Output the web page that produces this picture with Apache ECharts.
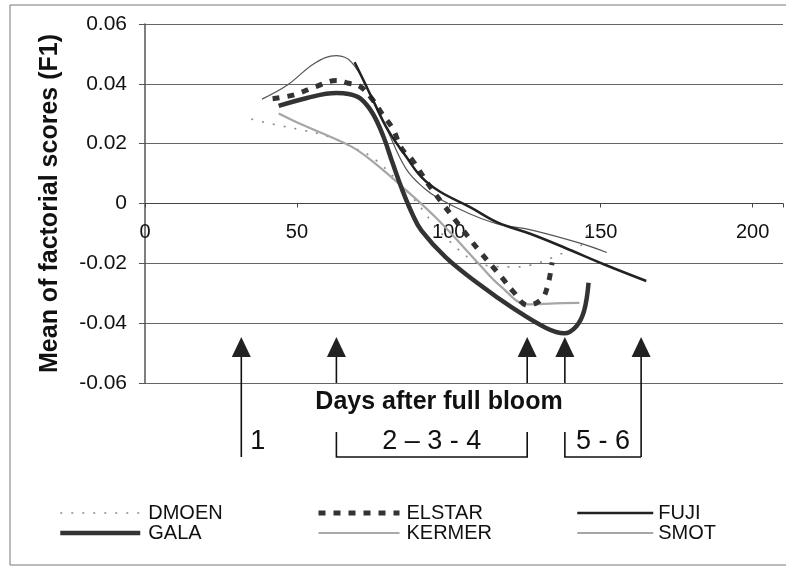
<!DOCTYPE html>
<html>
<head>
<meta charset="utf-8">
<script src="https://cdn.jsdelivr.net/npm/echarts@6/dist/echarts.min.js"></script>
<style>
html,body{margin:0;padding:0;background:#fff;}
#chart{width:786px;height:568px;}
</style>
</head>
<body>
<div id="chart"></div>
<script>
// ---- data ----
var dmoenDays  = [35, 40, 45, 52, 60, 68, 76, 88, 100, 113, 122, 129, 136, 144, 147];
var dmoenVals  = [0.0282, 0.0270, 0.0259, 0.0245, 0.0225, 0.0190, 0.0145, 0.0020, -0.0124, -0.0208, -0.0212, -0.0200, -0.0172, -0.0135, -0.0046];

var elstarDays = [42, 49, 56, 63, 67, 71, 75, 78, 81.5, 84.5, 88, 93, 98, 104, 110, 117.5, 121, 126, 130.5, 132.5, 134];
var elstarVals = [0.0350, 0.0363, 0.0390, 0.0411, 0.0402, 0.0390, 0.0346, 0.0300, 0.0251, 0.0184, 0.0145, 0.0068, -0.0001, -0.0080, -0.0158, -0.0248, -0.0292, -0.0340, -0.0320, -0.0276, -0.0197];

var fujiDays   = [69, 72, 75, 80, 86, 91, 97, 107, 116, 127, 138, 151, 165];
var fujiVals   = [0.0472, 0.0410, 0.0346, 0.0245, 0.0156, 0.0088, 0.0040, -0.0012, -0.0063, -0.0102, -0.0147, -0.0203, -0.0259];

var galaDays   = [44, 53, 63, 67, 71, 75, 78.5, 81.5, 84.5, 88, 91, 99, 110, 121, 132, 138, 142, 144.5, 146];
var galaVals   = [0.0326, 0.0352, 0.0369, 0.0366, 0.0350, 0.0300, 0.0223, 0.0135, 0.0050, -0.0035, -0.0091, -0.0180, -0.0270, -0.0349, -0.0416, -0.0434, -0.0410, -0.0360, -0.0265];

var kermerDays = [38.5, 47, 56, 63, 68, 74, 80, 86, 92, 97, 107, 116, 127, 144, 152];
var kermerVals = [0.0349, 0.0397, 0.0470, 0.0494, 0.0472, 0.0370, 0.0240, 0.0115, 0.0050, 0.0015, -0.0035, -0.0068, -0.0088, -0.0135, -0.0164];

var smotDays   = [44, 52, 61, 68, 75, 86, 97, 110, 117, 126, 135, 143];
var smotVals   = [0.0301, 0.0262, 0.0223, 0.0190, 0.0140, 0.0044, -0.0060, -0.0203, -0.0276, -0.0337, -0.0334, -0.0332];

var stageDays   = [31.7, 63, 125.8, 138.2, 163.3];
var stageLabels = ['1', '2 \u2013 3 - 4', '5 - 6'];

var xTicks = [0, 50, 100, 150, 200];
var yTicks = [-0.06, -0.04, -0.02, 0, 0.02, 0.04, 0.06];

var FONT = "'Liberation Sans', Arial, sans-serif";

function pairs(xs, ys) { return xs.map(function (x, i) { return [x, ys[i]]; }); }

var chart = echarts.init(document.getElementById('chart'), null, {renderer: 'canvas'});

function lineSeries(name, xs, ys, color, width, type, z) {
  return {
    name: name, type: 'line', data: pairs(xs, ys), smooth: 0.4,
    symbol: 'none', z: z || 2,
    lineStyle: {color: color, width: width, type: type},
    itemStyle: {color: color}
  };
}

var GRID_TOP = 24, GRID_BOTTOM = 185, H = 568;
var plotH = H - GRID_TOP - GRID_BOTTOM;

var legendBase = {
  orient: 'vertical', top: 503, padding: 0, itemHeight: 14, itemGap: 0, selectedMode: false,
  itemStyle: {opacity: 0, borderWidth: 0},
  lineStyle: {width: 'inherit', type: 'inherit'},
  textStyle: {fontSize: 20, fontFamily: FONT, color: '#111', lineHeight: 19}
};

chart.setOption({
  animation: false,
  backgroundColor: '#fff',
  grid: {left: 145, right: 2, top: GRID_TOP, bottom: GRID_BOTTOM, containLabel: false},
  xAxis: {
    type: 'value', min: 0, max: 210, interval: 50,
    position: 'bottom', offset: -plotH / 2,
    axisLine: {onZero: false, lineStyle: {color: '#444', width: 1}},
    axisTick: {show: true, length: 4, lineStyle: {color: '#444'}},
    axisLabel: {
      fontSize: 20, fontFamily: FONT, color: '#111', margin: 19,
      formatter: function (v) { return xTicks.indexOf(v) >= 0 ? String(v) : ''; }
    },
    splitLine: {show: false}
  },
  yAxis: {
    type: 'value', min: -0.06, max: 0.06, interval: 0.02,
    name: 'Mean of factorial scores (F1)', nameLocation: 'middle', nameGap: 82,
    nameTextStyle: {fontSize: 25, fontWeight: 'bold', fontFamily: FONT, color: '#111'},
    axisLine: {show: true, onZero: false, lineStyle: {color: '#555', width: 1.5}},
    axisTick: {show: true, length: 6, lineStyle: {color: '#555'}},
    axisLabel: {
      fontSize: 21, fontFamily: FONT, color: '#111', margin: 18,
      formatter: function (v) {
        var r = Math.round(v * 100) / 100;
        for (var i = 0; i < yTicks.length; i++) if (Math.abs(yTicks[i] - r) < 1e-9) return r === 0 ? '0' : r.toFixed(2);
        return '';
      }
    },
    splitLine: {show: true, lineStyle: {color: '#666', width: 1}}
  },
  legend: [
    Object.assign({}, legendBase, {left: 58, itemWidth: 80, data: ['DMOEN', 'GALA'],
      textStyle: Object.assign({}, legendBase.textStyle, {padding: [0, 0, 0, 3]})}),
    Object.assign({}, legendBase, {left: 316, itemWidth: 81, data: ['ELSTAR', 'KERMER'],
      textStyle: Object.assign({}, legendBase.textStyle, {padding: [0, 0, 0, 2]})}),
    Object.assign({}, legendBase, {left: 576, itemWidth: 76, data: ['FUJI', 'SMOT'],
      textStyle: Object.assign({}, legendBase.textStyle, {padding: [0, 0, 0, 0]})})
  ],
  series: [
    lineSeries('DMOEN', dmoenDays, dmoenVals, '#8c8c8c', 1.6, [2, 9], 2),
    lineSeries('ELSTAR', elstarDays, elstarVals, '#333', 5, [7, 8], 3),
    lineSeries('FUJI', fujiDays, fujiVals, '#222', 2.5, 'solid', 3),
    lineSeries('GALA', galaDays, galaVals, '#333', 4.5, 'solid', 4),
    lineSeries('KERMER', kermerDays, kermerVals, '#555', 1.2, 'solid', 2),
    lineSeries('SMOT', smotDays, smotVals, '#a6a6a6', 2.2, 'solid', 2)
  ]
});

// ---- annotations: stage arrows and brackets ----
function px(day) { return chart.convertToPixel({xAxisIndex: 0}, day); }
var xs = stageDays.map(px);
var tipY = 337, baseY = 357, plotBottom = chart.convertToPixel({yAxisIndex: 0}, -0.06);
var brTop = 432, brBot = 457;
var lineStyle = {stroke: '#111', lineWidth: 1.6};
var g = [];
// outer frame
g.push({type: 'rect', shape: {x: 10, y: 5, width: 800, height: 560}, style: {fill: null, stroke: '#777', lineWidth: 1}, z: 0, silent: true});
xs.forEach(function (x, i) {
  g.push({type: 'polygon', shape: {points: [[x, tipY], [x - 9.5, baseY], [x + 9.5, baseY]]}, style: {fill: '#222'}, z: 10});
  var bottom = (i === 0 || i === 4) ? brBot : plotBottom;
  g.push({type: 'line', shape: {x1: x, y1: baseY, x2: x, y2: bottom}, style: lineStyle, z: 10});
});
// bracket 2-3-4
g.push({type: 'polyline', shape: {points: [[xs[1], brTop], [xs[1], brBot], [xs[2], brBot], [xs[2], brTop]]}, style: Object.assign({fill: null}, lineStyle), z: 10});
// bracket 5-6
g.push({type: 'polyline', shape: {points: [[xs[3], brTop], [xs[3], brBot], [xs[4], brBot]]}, style: Object.assign({fill: null}, lineStyle), z: 10});
var labStyle = {fontSize: 27, fontFamily: FONT, fill: '#111', textVerticalAlign: 'middle'};
g.push({type: 'text', x: xs[0] + 9, y: 442, style: Object.assign({text: stageLabels[0], textAlign: 'left'}, labStyle), z: 10});
g.push({type: 'text', x: (xs[1] + xs[2]) / 2, y: 442, style: Object.assign({text: stageLabels[1], textAlign: 'center'}, labStyle), z: 10});
g.push({type: 'text', x: (xs[3] + xs[4]) / 2, y: 442, style: Object.assign({text: stageLabels[2], textAlign: 'center'}, labStyle), z: 10});
// x-axis title
g.push({type: 'text', x: 439, y: 402, style: {text: 'Days after full bloom', fontSize: 25, fontWeight: 'bold', fontFamily: FONT, fill: '#111', textAlign: 'center', textVerticalAlign: 'middle'}, z: 10});
chart.setOption({graphic: g});
</script>
</body>
</html>
